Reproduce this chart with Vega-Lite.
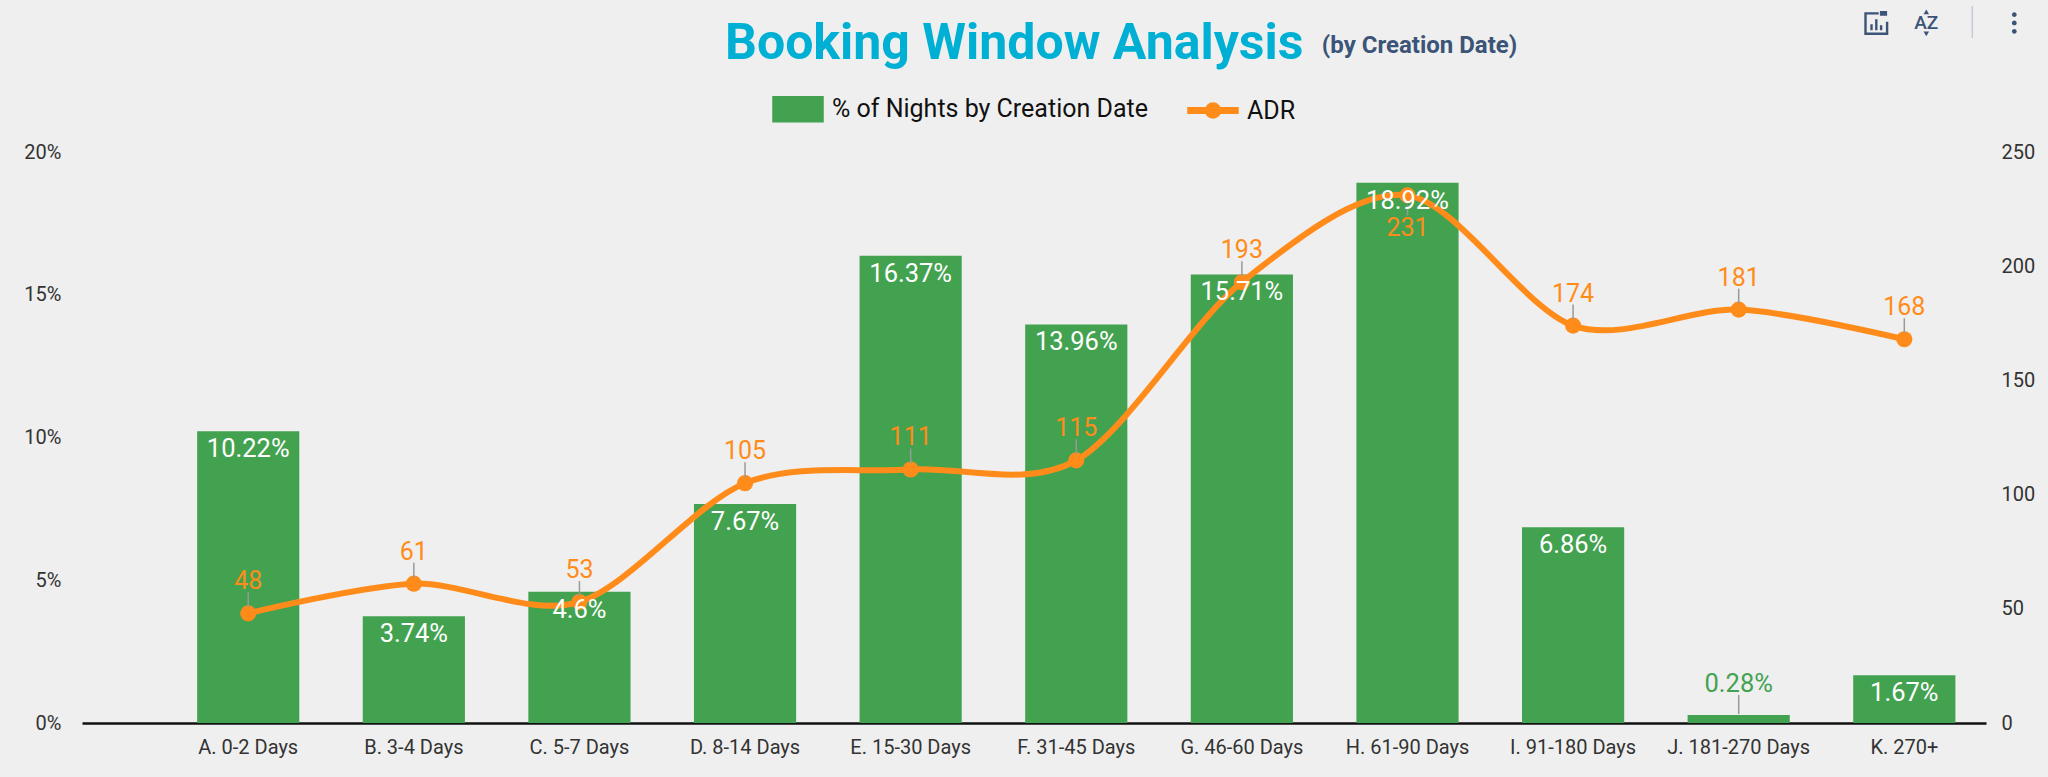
{
  "$schema": "https://vega.github.io/schema/vega-lite/v6.json",
  "autosize": {"type": "none"},
  "width": 1904,
  "height": 571,
  "padding": {"left": 82, "top": 152, "right": 62, "bottom": 54},
  "background": "#efefef",
  "title": {
    "text": "Booking Window Analysis",
    "anchor": "start",
    "frame": "group",
    "dx": 643,
    "dy": 104,
    "offset": 0,
    "baseline": "alphabetic",
    "font": "Roboto",
    "fontSize": 50,
    "fontWeight": 700,
    "color": "#00b0d4"
  },
  "config": {
    "font": "Roboto",
    "view": {"stroke": null},
    "axis": {"grid": false, "ticks": false, "labelFont": "Roboto", "labelFontSize": 20, "labelColor": "#333333", "title": null}
  },
  "data": {
    "values": [
      {"window": "A. 0-2 Days", "nights": 0.1022, "adr": 48},
      {"window": "B. 3-4 Days", "nights": 0.0374, "adr": 61},
      {"window": "C. 5-7 Days", "nights": 0.046, "adr": 53},
      {"window": "D. 8-14 Days", "nights": 0.0767, "adr": 105},
      {"window": "E. 15-30 Days", "nights": 0.1637, "adr": 111},
      {"window": "F. 31-45 Days", "nights": 0.1396, "adr": 115},
      {"window": "G. 46-60 Days", "nights": 0.1571, "adr": 193},
      {"window": "H. 61-90 Days", "nights": 0.1892, "adr": 231},
      {"window": "I. 91-180 Days", "nights": 0.0686, "adr": 174},
      {"window": "J. 181-270 Days", "nights": 0.0028, "adr": 181},
      {"window": "K. 270+", "nights": 0.0167, "adr": 168}
    ]
  },
  "layer": [
    {
      "encoding": {
        "x": {
          "field": "window",
          "type": "nominal",
          "sort": null,
          "scale": {"type": "band", "paddingInner": 0.383, "paddingOuter": 0.44, "align": 0.79},
          "axis": {"labelAngle": 0, "domainColor": "#111111", "domainWidth": 2.5, "labelPadding": 14, "labelOverlap": false}
        }
      },
      "layer": [
        {
          "mark": {"type": "bar"},
          "encoding": {
            "y": {
              "field": "nights",
              "type": "quantitative",
              "scale": {"domain": [0, 0.2], "nice": false},
              "axis": {"format": ".0%", "values": [0, 0.05, 0.1, 0.15, 0.2], "domain": false, "labelPadding": 21}
            },
            "color": {
              "datum": "% of Nights by Creation Date",
              "scale": {"domain": ["% of Nights by Creation Date", "ADR"], "range": ["#43a250", "#ff8c1a"]},
              "legend": {
                "title": null,
                "orient": "none",
                "direction": "horizontal",
                "legendX": 690,
                "legendY": -69,
                "labelFontSize": 25,
                "labelLimit": 400,
                "labelColor": "#111111",
                "labelFont": "Roboto",
                "symbolSize": 2500,
                "columnPadding": 37,
                "labelOffset": 8,
                "encoding": {
                  "symbols": {
                    "shape": {"value": {"signal": "datum.value == 'ADR' ? 'M-1,-.11H1V.11H-1Z M.3,0A.3,.3 0 1 1 -.3,0A.3,.3 0 1 1 .3,0Z' : 'M-1,-.5H1V.5H-1Z'"}}
                  }
                }
              }
            }
          }
        },
        {
          "layer": [
            {
              "mark": {"type": "line", "interpolate": "cardinal", "tension": 0.1, "strokeWidth": 6},
              "encoding": {"color": {"datum": "ADR"}}
            },
            {
              "mark": {"type": "point", "filled": true, "size": 260, "opacity": 1, "color": "#ff8c1a"}
            },
            {
              "transform": [{"filter": "datum.adr != 231"}],
              "mark": {"type": "rule", "color": "#999999", "strokeWidth": 1.5, "yOffset": -6, "y2Offset": -21},
              "encoding": {"y2": {"field": "adr"}}
            },
            {
              "transform": [{"filter": "datum.adr == 231"}],
              "mark": {"type": "rule", "color": "#999999", "strokeWidth": 1.5, "yOffset": 10, "y2Offset": 20},
              "encoding": {"y2": {"field": "adr"}}
            },
            {
              "transform": [{"filter": "datum.adr != 231"}],
              "mark": {"type": "text", "fontSize": 25, "color": "#ff8c1a", "dy": -32},
              "encoding": {"text": {"field": "adr", "type": "quantitative"}}
            },
            {
              "transform": [{"filter": "datum.adr == 231"}],
              "mark": {"type": "text", "fontSize": 25, "color": "#ff8c1a", "dy": 33},
              "encoding": {"text": {"field": "adr", "type": "quantitative"}}
            }
          ],
          "encoding": {
            "y": {
              "field": "adr",
              "type": "quantitative",
              "scale": {"domain": [0, 250], "nice": false},
              "axis": {"orient": "right", "values": [0, 50, 100, 150, 200, 250], "domain": false, "labelPadding": 15}
            }
          }
        },
        {
          "layer": [
            {
              "transform": [{"filter": "datum.nights >= 0.01"}],
              "mark": {"type": "text", "fontSize": 25.5, "color": "#ffffff", "dy": 18},
              "encoding": {"text": {"field": "nights", "type": "quantitative", "format": ".2~%"}}
            },
            {
              "transform": [{"filter": "datum.nights < 0.01"}],
              "mark": {"type": "text", "fontSize": 25.5, "color": "#43a250", "dy": -31},
              "encoding": {"text": {"field": "nights", "type": "quantitative", "format": ".2~%"}}
            },
            {
              "transform": [{"filter": "datum.nights < 0.01"}],
              "mark": {"type": "rule", "color": "#999999", "strokeWidth": 1.5, "yOffset": -1, "y2Offset": -20},
              "encoding": {"y2": {"field": "nights"}}
            }
          ],
          "encoding": {
            "y": {
              "field": "nights",
              "type": "quantitative",
              "scale": {"domain": [0, 0.2], "nice": false},
              "axis": null
            }
          }
        }
      ],
      "resolve": {"scale": {"y": "independent"}}
    },
    {
      "data": {"values": [{"note": "(by Creation Date)", "icon": "AZ"}]},
      "layer": [
        {
          "mark": {"type": "text", "fontSize": 24, "fontWeight": 700, "color": "#3b5478", "baseline": "alphabetic", "align": "left", "dx": 80},
          "encoding": {"x": {"datum": "G. 46-60 Days", "sort": null}, "y": {"datum": 293.5}, "text": {"field": "note"}}
        },
        {
          "mark": {"type": "text", "fontSize": 19, "fontWeight": 500, "color": "#3b5478", "xOffset": 22},
          "encoding": {"x": {"datum": "K. 270+", "sort": null}, "y": {"datum": 306.5}, "text": {"field": "icon"}}
        },
        {
          "mark": {"type": "point", "shape": "triangle-up", "filled": true, "color": "#3b5478", "opacity": 1, "size": 30, "xOffset": 22},
          "encoding": {"x": {"datum": "K. 270+", "sort": null}, "y": {"datum": 311.3}}
        },
        {
          "mark": {"type": "point", "shape": "triangle-down", "filled": true, "color": "#3b5478", "opacity": 1, "size": 30, "xOffset": 22},
          "encoding": {"x": {"datum": "K. 270+", "sort": null}, "y": {"datum": 301.7}}
        },
        {
          "mark": {"type": "point", "filled": true, "color": "#3b5478", "opacity": 1, "size": 576, "xOffset": -28, "shape": "M-1,-.9H.2V-.7H-.8V.8H.8V-.1H1V1H-1Z M-.5,.1H-.3V.6H-.5Z M-.1,-.3H.1V.6H-.1Z M.3,.2H.5V.6H.3Z M.3,-.6H.9V-1H.3Z"},
          "encoding": {"x": {"datum": "K. 270+", "sort": null}, "y": {"datum": 306.5}}
        },
        {
          "mark": {"type": "rule", "color": "#c4ccd6", "strokeWidth": 1.5, "xOffset": 68},
          "encoding": {"x": {"datum": "K. 270+", "sort": null}, "y": {"datum": 314}, "y2": {"datum": 300}}
        },
        {
          "mark": {"type": "point", "filled": true, "color": "#3b5478", "opacity": 1, "size": 576, "xOffset": 110, "shape": "M.2,-.7A.2,.2 0 1 1 -.2,-.7A.2,.2 0 1 1 .2,-.7Z M.2,0A.2,.2 0 1 1 -.2,0A.2,.2 0 1 1 .2,0Z M.2,.7A.2,.2 0 1 1 -.2,.7A.2,.2 0 1 1 .2,.7Z"},
          "encoding": {"x": {"datum": "K. 270+", "sort": null}, "y": {"datum": 306.5}}
        }
      ],
      "encoding": {
        "y": {"scale": {"domain": [0, 250], "nice": false}, "axis": null}
      }
    }
  ],
  "resolve": {"scale": {"y": "independent"}}
}
